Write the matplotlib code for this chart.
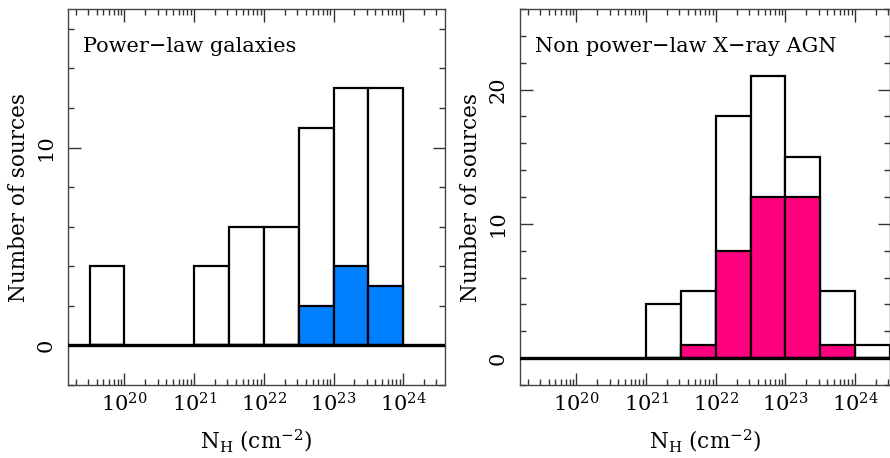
import matplotlib
matplotlib.use("Agg")
import matplotlib.pyplot as plt
from matplotlib.ticker import FixedLocator, MultipleLocator, NullFormatter, LogLocator
import numpy as np

plt.rcParams['font.family'] = 'DejaVu Serif'
plt.rcParams['mathtext.fontset'] = 'dejavuserif'

# log10(N_H) lower bin edges, bin width 0.5 dex
gal_lo = [19.5, 21.0, 21.5, 22.0, 22.5, 23.0, 23.5]
gal_all = [4, 4, 6, 6, 11, 13, 13]
gal_sub = [0, 0, 0, 0, 2, 4, 3]

agn_lo = [21.0, 21.5, 22.0, 22.5, 23.0, 23.5, 24.0]
agn_all = [4, 5, 18, 21, 15, 5, 1]
agn_sub = [0, 1, 8, 12, 12, 1, 0]

width = 0.5

fig = plt.figure(figsize=(8.9, 4.58), dpi=100)
W, H = 890.0, 458.0
ax1 = fig.add_axes([68 / W, 73 / H, 377 / W, 376 / H])
ax2 = fig.add_axes([520 / W, 73 / H, 370 / W, 376 / H])


def panel(ax, lo, tot, sub, color, label, xmax, ymax, yticks):
    lo = np.array(lo)
    left = 10 ** lo
    w = 10 ** (lo + width) - left
    ax.set_xscale('log')
    ax.bar(left, tot, width=w, align='edge', facecolor='white',
           edgecolor='black', linewidth=1.6, zorder=2)
    ax.bar(left, sub, width=w, align='edge', facecolor=color,
           edgecolor='black', linewidth=1.6, zorder=3)
    ax.axhline(0, color='black', linewidth=2.4, zorder=4)
    ax.set_xlim(10 ** 19.19, 10 ** xmax)
    ax.set_ylim(-2, ymax)
    ax.xaxis.set_major_locator(FixedLocator([1e20, 1e21, 1e22, 1e23, 1e24]))
    ax.xaxis.set_minor_locator(LogLocator(base=10, subs=np.arange(2, 10), numticks=20))
    ax.xaxis.set_minor_formatter(NullFormatter())
    ax.set_xticklabels([r'$10^{20}$', r'$10^{21}$', r'$10^{22}$', r'$10^{23}$', r'$10^{24}$'])
    ax.set_yticks(yticks)
    ax.set_yticklabels([str(v) for v in yticks], rotation=90, va='center')
    ax.yaxis.set_minor_locator(MultipleLocator(2))
    ax.tick_params(which='both', direction='in', top=True, right=True,
                   labelsize=15, color='#333333')
    ax.tick_params(which='major', length=9, width=1)
    ax.tick_params(which='minor', length=4.5, width=1)
    ax.tick_params(axis='x', pad=5)
    ax.tick_params(axis='y', pad=9)
    for s in ax.spines.values():
        s.set_linewidth(1)
        s.set_color('#444444')
    ax.set_ylabel('Number of sources', fontsize=15.5, labelpad=5)
    ax.set_xlabel(r'N$_\mathrm{H}$ (cm$^{-2}$)', fontsize=15.5, labelpad=9)
    ax.text(0.04, 0.9, label, transform=ax.transAxes, fontsize=15,
            ha='left', va='center')


panel(ax1, gal_lo, gal_all, gal_sub, '#0080ff', 'Power\u2212law galaxies', 24.6, 17, [0, 10])
panel(ax2, agn_lo, agn_all, agn_sub, '#ff0080', 'Non power\u2212law X\u2212ray AGN', 24.5, 26, [0, 10, 20])

fig.savefig('out.png', dpi=100)
